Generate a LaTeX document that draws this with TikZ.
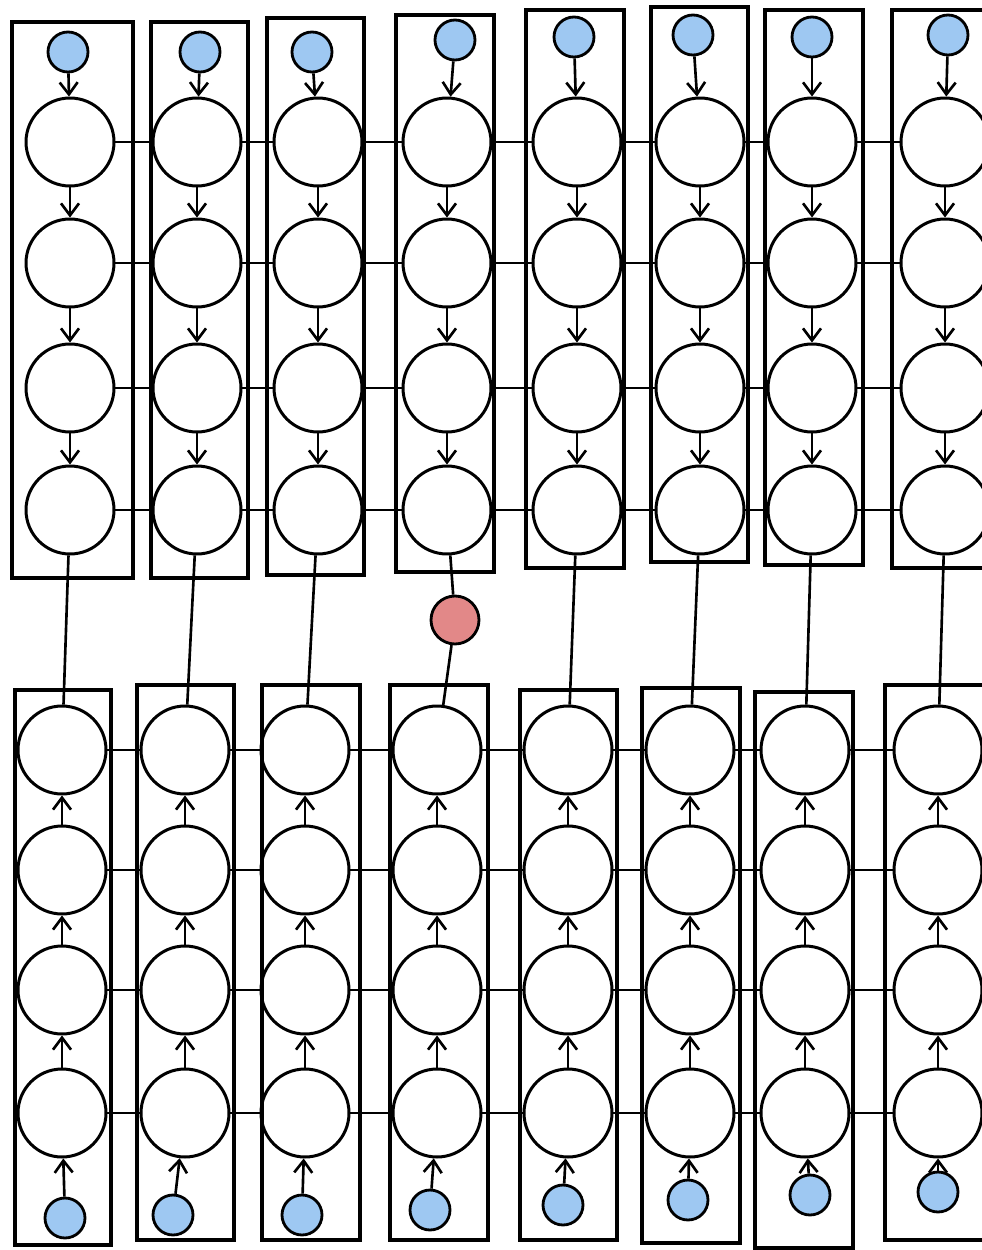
\documentclass[tikz,border=0pt]{standalone}
\usetikzlibrary{arrows.meta}
\definecolor{inblue}{RGB}{158,200,242}
\definecolor{outred}{RGB}{226,136,136}
\begin{document}
\begin{tikzpicture}[
  x=0.02cm, y=-0.02cm,
  unit/.style={circle, draw, line width=1.7pt, minimum size=1.76cm, inner sep=0pt},
  inp/.style={circle, draw, line width=1.6pt, fill=inblue, minimum size=0.8cm, inner sep=0pt},
  outp/.style={circle, draw, line width=1.6pt, fill=outred, minimum size=0.96cm, inner sep=0pt},
  frame/.style={draw, line width=2pt},
  link/.style={draw, line width=1.5pt},
  flow/.style={link, -{Straight Barb[length=2.4mm, width=3.6mm]}}
]
\useasboundingbox (0,0) rectangle (981,1250);

% upper block: input on top, chain runs down
\foreach \i/\cx/\ix/\iy/\l/\r/\t/\b in {
    1/70/68/52/12/133/22/578, 2/197/200/52/151/248/22/578,
    3/318/312/52/267/364/18/575, 4/447/455/40/396/494/15/572,
    5/577/574/37/526/624/10/568, 6/700/693/35/651/748/7/562,
    7/812/812/37/765/863/10/565, 8/945/948/35/892/990/10/568} {
  \draw[frame] (\l,\t) rectangle (\r,\b);
  \node[inp] (ti\i) at (\ix,\iy) {};
  \foreach \k/\y in {1/142, 2/263, 3/388, 4/510}
    \node[unit] (t\i-\k) at (\cx,\y) {};
  \draw[flow] (ti\i) -- (t\i-1);
  \foreach \a/\c in {1/2, 2/3, 3/4}
    \draw[flow] (t\i-\a) -- (t\i-\c);
}

% lower block: input at the bottom, chain runs up
\foreach \i/\cx/\ix/\iy/\l/\r/\t/\b in {
    1/62/65/1218/15/111/690/1245, 2/185/173/1215/137/234/685/1240,
    3/305/302/1215/262/360/685/1240, 4/437/430/1210/390/488/685/1240,
    5/568/563/1205/520/617/690/1240, 6/690/688/1200/642/740/688/1243,
    7/805/810/1195/755/853/692/1248, 8/938/938/1192/885/990/685/1240} {
  \draw[frame] (\l,\t) rectangle (\r,\b);
  \node[inp] (bi\i) at (\ix,\iy) {};
  \foreach \k/\y in {1/750, 2/870, 3/990, 4/1113}
    \node[unit] (b\i-\k) at (\cx,\y) {};
  \draw[flow] (bi\i) -- (b\i-4);
  \foreach \a/\c in {4/3, 3/2, 2/1}
    \draw[flow] (b\i-\a) -- (b\i-\c);
}

% output node between the blocks
\node[outp] (out) at (455,620) {};

% side links inside each row
\foreach \k in {1,...,4}
  \foreach \i [count=\j from 2] in {1,...,7} {
    \draw[link] (t\i-\k) -- (t\j-\k);
    \draw[link] (b\i-\k) -- (b\j-\k);
  }

% links from the upper block to the lower block
\foreach \i in {1,2,3,5,6,7,8}
  \draw[link] (t\i-4) -- (b\i-1);
\draw[link] (t4-4) -- (out);
\draw[link] (out) -- (b4-1);
\end{tikzpicture}
\end{document}
